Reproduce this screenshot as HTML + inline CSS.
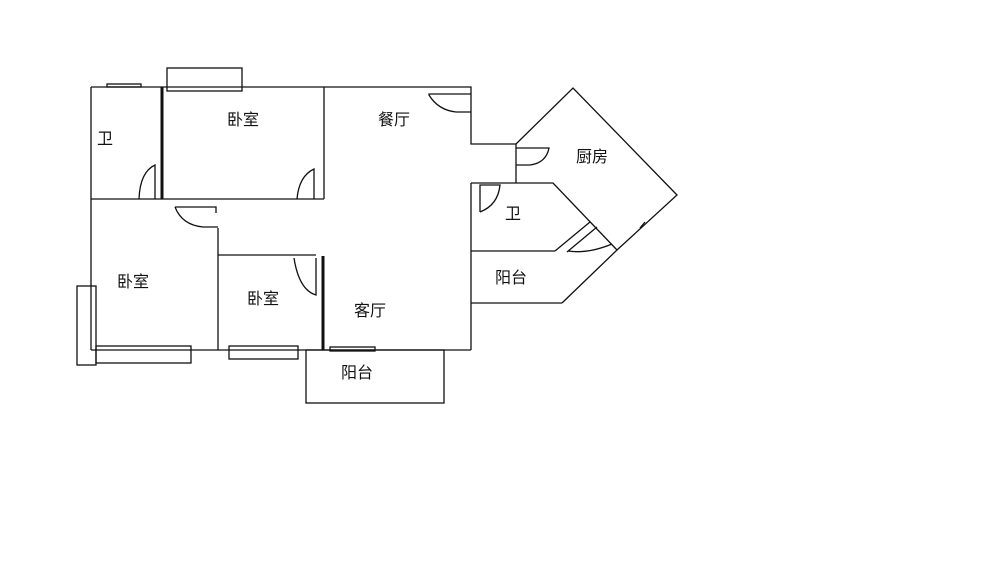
<!DOCTYPE html>
<html><head><meta charset="utf-8"><style>
html,body{margin:0;padding:0;background:#fff;}
svg{display:block}
text{font-family:"Liberation Sans","Noto Sans CJK SC",sans-serif;font-size:16px;fill:#111;text-anchor:middle;dominant-baseline:middle}
</style></head><body>
<svg width="1000" height="562" viewBox="0 0 1000 562" xmlns="http://www.w3.org/2000/svg">
<g fill="none" stroke="#111" stroke-width="1.3">
<!-- outer walls -->
<polyline points="91,87 471,87 471,144 516,144 516,183"/>
<line x1="91" y1="87" x2="91" y2="350"/>
<line x1="91" y1="350" x2="471" y2="350"/>
<line x1="471" y1="183" x2="471" y2="350"/>
<!-- kitchen -->
<polyline points="516,144 573,88 677,195 617,250 562,303"/>
<!-- bath right -->
<polyline points="471,183 553,183 617,250"/>
<line x1="471" y1="251" x2="555" y2="251"/>
<line x1="555" y1="251" x2="590" y2="222"/>
<line x1="567" y1="252" x2="597" y2="227"/>
<line x1="471" y1="303" x2="562" y2="303"/>
<!-- interior -->
<line x1="91" y1="199" x2="324" y2="199"/>
<line x1="324" y1="87" x2="324" y2="199"/>
<line x1="218" y1="228" x2="218" y2="350"/>
<line x1="218" y1="255" x2="316" y2="255"/>
<!-- windows -->
<rect x="167" y="68" width="75" height="23"/>
<rect x="107" y="84" width="34" height="3"/>
<rect x="77" y="286" width="19" height="79"/>
<rect x="96" y="346" width="95" height="17"/>
<rect x="229" y="346" width="69" height="13"/>
<rect x="306" y="350" width="138" height="53"/>
<rect x="330" y="347" width="45" height="4"/>
<!-- door arcs -->
<path d="M155,199 L155,165 Q140,172 139,199"/>
<path d="M314,199 L314,169 Q299,176 297,199"/>
<path d="M471,112 L456,112 Q438,110 429,95 L429,94 L471,94"/>
<path d="M175,207 L216,207 L216,213 M175,207 Q182,225 203,227 L218,227"/>
<path d="M316,258 L316,295 Q299,290 294,258"/>
<path d="M516,165 L530,165 Q546,163 549,148 L516,148"/>
<path d="M480,212 Q498,205 500,185 L480,185 L480,212"/>
<path d="M568,251 Q588,254 612,244"/>
<path d="M640,228 L645,222"/>
</g>
<g stroke="#111" stroke-width="3">
<line x1="162" y1="87" x2="162" y2="199"/>
<line x1="323" y1="256" x2="323" y2="350"/>
</g>
<text x="105" y="140">卫</text>
<text x="243" y="121">卧室</text>
<text x="394" y="121">餐厅</text>
<text x="133" y="283">卧室</text>
<text x="263" y="300">卧室</text>
<text x="370" y="312">客厅</text>
<text x="357" y="374">阳台</text>
<text x="592" y="158">厨房</text>
<text x="513" y="215">卫</text>
<text x="511" y="279">阳台</text>
</svg>
</body></html>
